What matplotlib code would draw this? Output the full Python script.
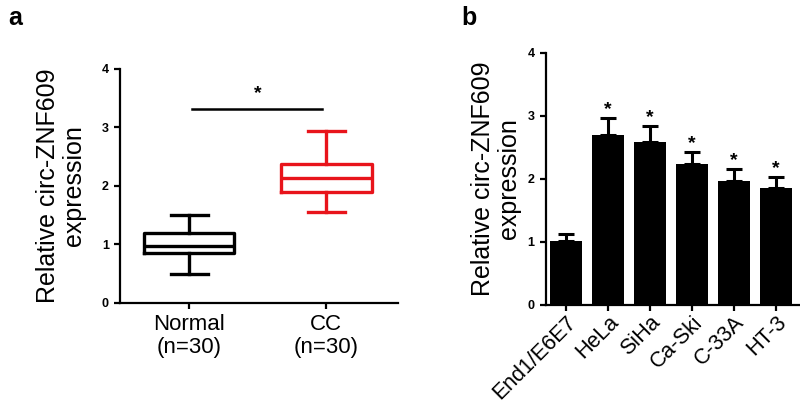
import matplotlib
matplotlib.use("Agg")
import matplotlib.pyplot as plt
import numpy as np

plt.rcParams['font.family'] = ['Liberation Sans', 'DejaVu Sans']

# Panel a: box plot summary values
groups_a = ["Normal\n(n=30)", "CC\n(n=30)"]
whislo = [0.50, 1.56]
q1 = [0.85, 1.89]
med = [0.98, 2.13]
q3 = [1.19, 2.37]
whishi = [1.50, 2.94]
box_colors = ["black", "#e8141b"]
sig_a_y = 3.32

# Panel b: bar chart values
cells = ["End1/E6E7", "HeLa", "SiHa", "Ca-Ski", "C-33A", "HT-3"]
means = [1.02, 2.70, 2.59, 2.23, 1.97, 1.86]
errs = [0.10, 0.26, 0.25, 0.20, 0.18, 0.17]
stars = ["", "*", "*", "*", "*", "*"]

ylabel = "Relative circ-ZNF609\nexpression"

fig = plt.figure(figsize=(8, 4.05), dpi=100)

def style_axis(ax):
    for s in ["top", "right"]:
        ax.spines[s].set_visible(False)
    for s in ["left", "bottom"]:
        ax.spines[s].set_linewidth(1.6)
    ax.tick_params(axis='both', width=1.6, length=4.5)
    ax.set_ylim(0, 4)
    ax.set_yticks([0, 1, 2, 3, 4])
    for lab in ax.get_yticklabels():
        lab.set_fontweight('bold')
        lab.set_fontsize(9)

# ---- Panel a ----
axa = fig.add_axes([0.150, 0.252, 0.348, 0.578])
stats = []
for i in range(2):
    stats.append(dict(med=med[i], q1=q1[i], q3=q3[i], whislo=whislo[i],
                      whishi=whishi[i], fliers=[], label=groups_a[i]))
for i in range(2):
    c = box_colors[i]
    axa.bxp([stats[i]], positions=[i], widths=0.66, capwidths=0.27,
            showfliers=False, patch_artist=False,
            boxprops=dict(color=c, linewidth=2.4),
            medianprops=dict(color=c, linewidth=2.4),
            whiskerprops=dict(color=c, linewidth=2.4),
            capprops=dict(color=c, linewidth=2.4))
axa.set_xlim(-0.504, 1.525)
style_axis(axa)
axa.set_xticks([0, 1])
axa.set_xticklabels(groups_a, fontsize=16, linespacing=1.15)
axa.set_ylabel(ylabel, fontsize=18, linespacing=1.1)
axa.yaxis.set_label_coords(-0.122, 0.5)
axa.plot([0.02, 0.97], [sig_a_y, sig_a_y], color='black', lw=1.8)
axa.text(0.5, sig_a_y + 0.12, "*", ha='center', va='bottom', fontsize=14, fontweight='bold')

# ---- Panel b ----
axb = fig.add_axes([0.682, 0.247, 0.317, 0.623])
x = np.arange(len(cells))
axb.bar(x, means, width=0.76, color='black', zorder=2)
axb.errorbar(x, means, yerr=[np.zeros(len(errs)), errs], fmt='none', ecolor='black',
             elinewidth=2.2, capsize=5.5, capthick=2.2, zorder=1)
for xi, m, e, s in zip(x, means, errs, stars):
    if s:
        axb.text(xi, m + e + 0.0, s, ha='center', va='bottom', fontsize=14, fontweight='bold')
axb.set_xlim(-0.48, 5.56)
style_axis(axb)
axb.set_xticks(x)
axb.set_xticklabels(cells, fontsize=15.5, rotation=45, ha='right', rotation_mode='anchor')
axb.tick_params(axis='x', pad=0.5)
axb.set_ylabel(ylabel, fontsize=18, linespacing=1.1)
axb.yaxis.set_label_coords(-0.097, 0.5)

fig.text(0.010, 0.985, "a", fontsize=18, fontweight='bold', va='top')
fig.text(0.577, 0.985, "b", fontsize=18, fontweight='bold', va='top')

fig.savefig("out.png", dpi=100)
